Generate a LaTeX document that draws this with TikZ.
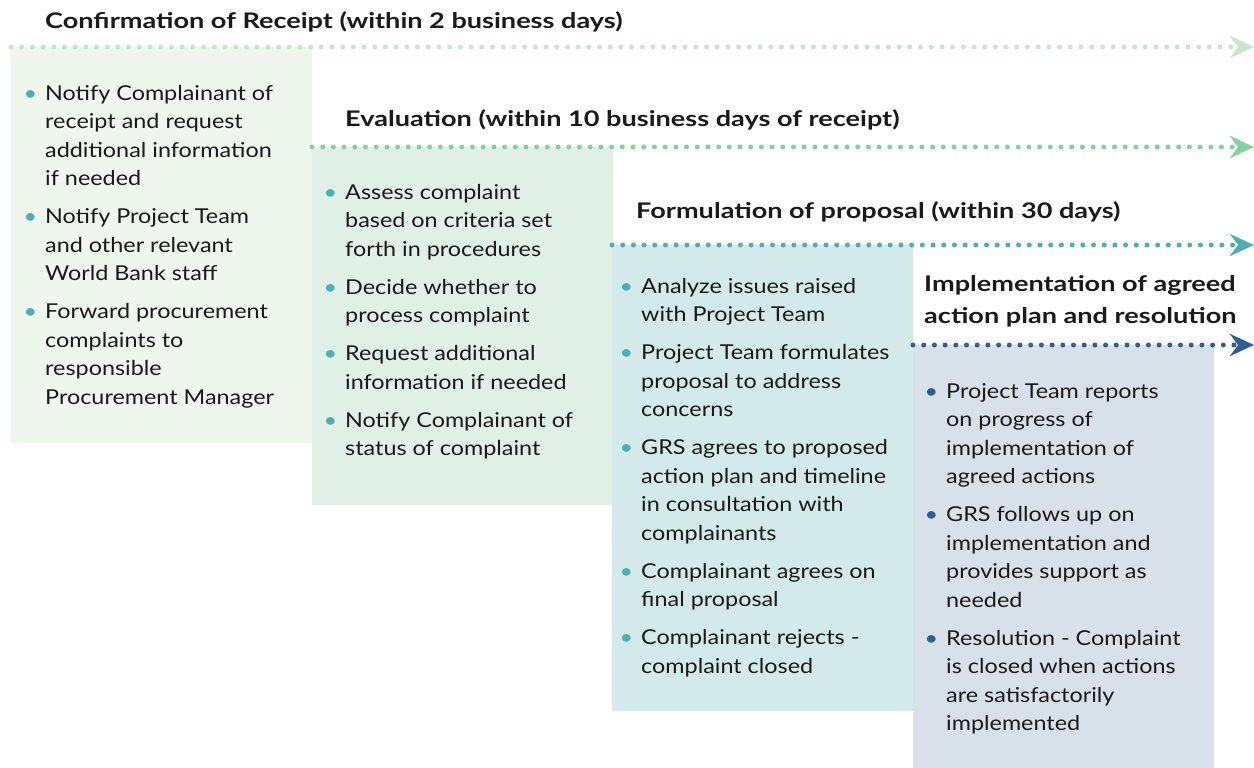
\documentclass[tikz,border=0pt]{standalone}
\usepackage{fontspec}
\setmainfont{Lato}[FakeStretch=1.14]
\newfontfamily\titlefont{Lato}[FakeStretch=1.26]
\usetikzlibrary{arrows.meta,positioning}
\definecolor{fillA}{HTML}{EEF6EE}
\definecolor{fillB}{HTML}{E1F0E7}
\definecolor{fillC}{HTML}{D3E9EA}
\definecolor{fillD}{HTML}{D8E0EA}
\definecolor{lineA}{HTML}{C9E6CB}
\definecolor{lineB}{HTML}{86CFA3}
\definecolor{lineC}{HTML}{4BAFB3}
\definecolor{lineD}{HTML}{2F5F8F}
\definecolor{inktext}{HTML}{1A1A1A}
\newcommand{\bl}[1][lineC]{\leavevmode\llap{\textcolor{#1}{\textbullet}\hspace{8pt}}\ignorespaces}

\begin{document}
\begin{tikzpicture}[
    x=1pt, y=-1pt,
    stage box/.style={inner sep=0pt, anchor=north west, minimum width=301pt},
    stage title/.style={inner sep=0pt, anchor=base west, text=inktext,
        font=\titlefont\fontsize{21.5}{32}\selectfont\bfseries, align=left},
    stage list/.style={inner sep=0pt, anchor=north west, text=inktext,
        font=\fontsize{20.5}{28.5}\selectfont, align=left},
    timeline/.style={line width=5pt, line cap=round, dash pattern=on 0pt off 10.7pt,
        -{Stealth[length=24pt, width=22pt, inset=8pt]}}]

    \useasboundingbox (0,0) rectangle (1254,768);

    % boxes
    \node[stage box, fill=fillA, minimum height=396pt] (boxA) at (11,47) {};
    \node[stage box, fill=fillB, minimum height=358pt] (boxB) at (312,147) {};
    \node[stage box, fill=fillC, minimum height=466pt] (boxC) at (612,245) {};
    \node[stage box, fill=fillD, minimum height=423pt] (boxD) at (913,345) {};

    % timelines
    \coordinate (endA) at (1254,47);
    \coordinate (endB) at (1254,147);
    \coordinate (endC) at (1254,245);
    \coordinate (endD) at (1254,345);
    \draw[timeline, lineA] (boxA.north west) -- (endA);
    \draw[timeline, lineB] (boxB.north west) -- (endB);
    \draw[timeline, lineC] (boxC.north west) -- (endC);
    \draw[timeline, lineD] (boxD.north west) -- (endD);

    % titles
    \node[stage title] (titleA) at (45,29) {Confirmation of Receipt (within 2 business days)};
    \node[stage title] (titleB) at (345,126) {Evaluation (within 10 business days of receipt)};
    \node[stage title] (titleC) at (636,218) {Formulation of proposal (within 30 days)};
    \node[stage title] (titleD) at (924,323) {Implementation of agreed\\action plan and resolution};

    % lists
    \node[stage list] (listA) at (45,85) {\bl Notify Complainant of\\receipt and request\\additional information\\if needed\\[9.5pt]
        \bl Notify Project Team\\and other relevant\\World Bank staff\\[9.5pt]
        \bl Forward procurement\\complaints to\\responsible\\Procurement Manager};
    \node[stage list] (listB) at (345,184) {\bl Assess complaint\\based on criteria set\\forth in procedures\\[9.5pt]
        \bl Decide whether to\\process complaint\\[9.5pt]
        \bl Request additional\\information if needed\\[9.5pt]
        \bl Notify Complainant of\\status of complaint};
    \node[stage list] (listC) at (641,278) {\bl Analyze issues raised\\with Project Team\\[9.5pt]
        \bl Project Team formulates\\proposal to address\\concerns\\[9.5pt]
        \bl GRS agrees to proposed\\action plan and timeline\\in consultation with\\complainants\\[9.5pt]
        \bl Complainant agrees on\\final proposal\\[9.5pt]
        \bl Complainant rejects -\\complaint closed};
    \node[stage list] (listD) at (946,383) {\bl[lineD] Project Team reports\\on progress of\\implementation of\\agreed actions\\[9.5pt]
        \bl[lineD] GRS follows up on\\implementation and\\provides support as\\needed\\[9.5pt]
        \bl[lineD] Resolution - Complaint\\is closed when actions\\are satisfactorily\\implemented};

\end{tikzpicture}
\end{document}
